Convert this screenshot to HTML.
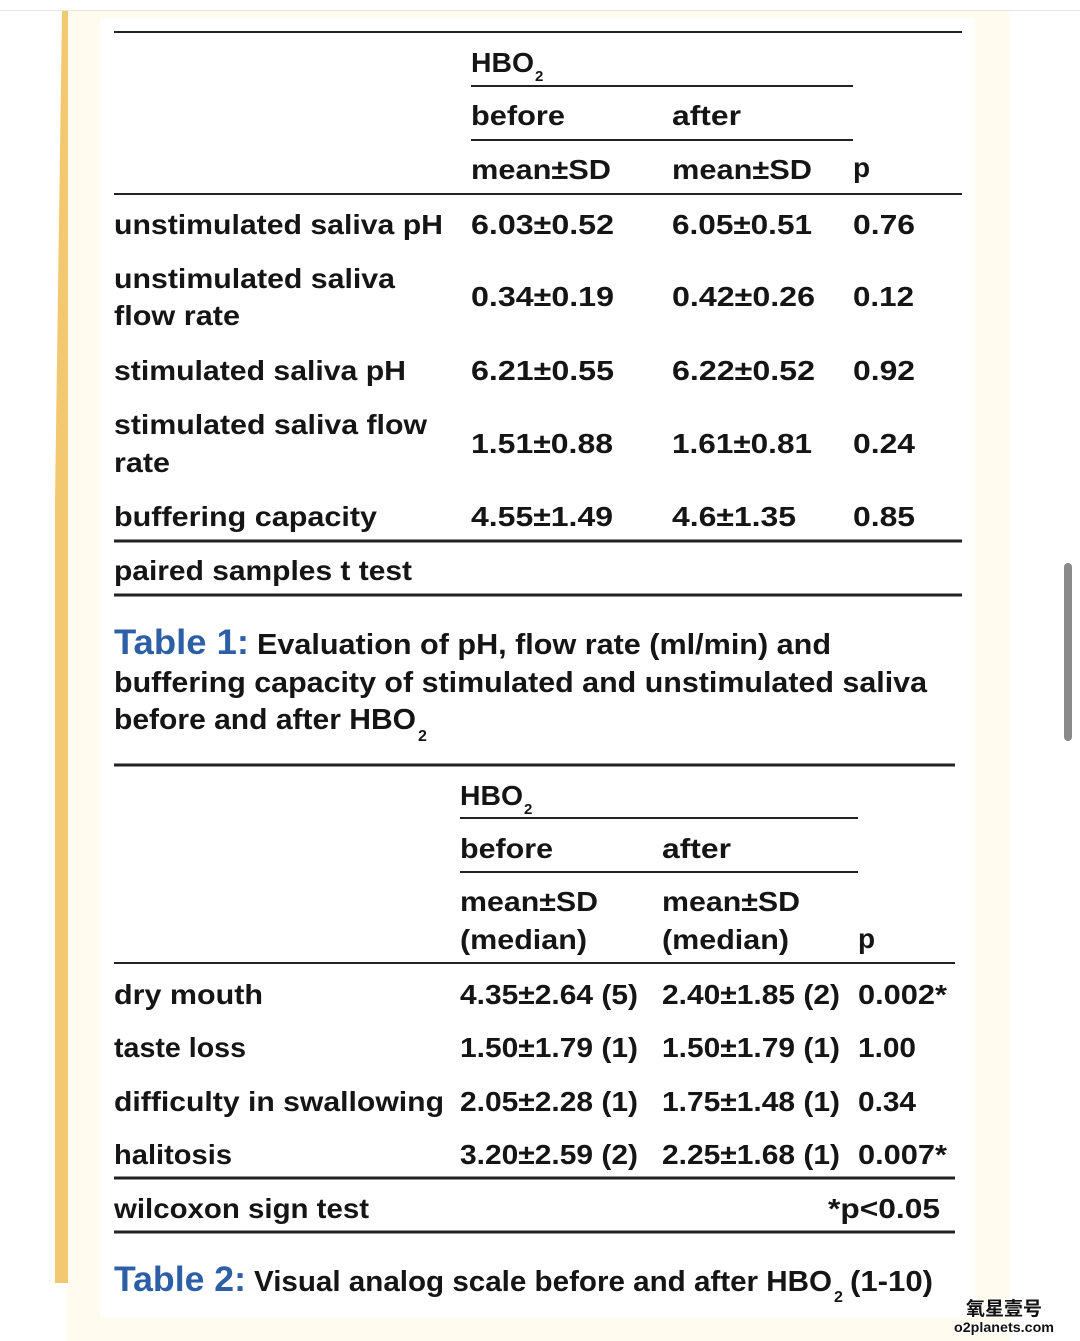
<!DOCTYPE html>
<html><head><meta charset="utf-8"><style>
html,body{margin:0;padding:0;width:1080px;height:1341px;overflow:hidden;background:#fff}
svg{display:block}
text{font-family:"Liberation Sans","Noto Sans CJK SC",sans-serif;font-weight:bold;fill:#151515}
</style></head><body>
<svg width="1080" height="1341">
<rect x="0" y="0" width="1080" height="1341" fill="#fff"/>
<line x1="0" y1="10.5" x2="1080" y2="10.5" stroke="#e6e6e6"/>
<rect x="67" y="11" width="943" height="1330" fill="#fffbef"/>
<polygon points="62,11 68,11 68,1283 55,1283 55,500" fill="#f2c971"/>
<rect x="100" y="18" width="875" height="1300" fill="#fff"/>
<rect x="1064" y="563" width="8" height="178" rx="4" fill="#8a8a8a"/>

<g stroke="#222">
<line x1="114" y1="32" x2="962" y2="32" stroke-width="2"/>
<line x1="471" y1="86" x2="853" y2="86" stroke-width="2"/>
<line x1="471" y1="140" x2="853" y2="140" stroke-width="2"/>
<line x1="114" y1="194" x2="962" y2="194" stroke-width="2"/>
<line x1="114" y1="541" x2="962" y2="541" stroke-width="3"/>
<line x1="114" y1="595" x2="962" y2="595" stroke-width="3"/>
</g>
<g font-size="28" lengthAdjust="spacingAndGlyphs">
<text x="471" y="72" textLength="63" lengthAdjust="spacingAndGlyphs">HBO</text><text x="535" y="81" font-size="15">2</text>
<text x="471" y="125" textLength="94" lengthAdjust="spacingAndGlyphs">before</text>
<text x="672" y="125" textLength="69" lengthAdjust="spacingAndGlyphs">after</text>
<text x="471" y="179" textLength="140" lengthAdjust="spacingAndGlyphs">mean±SD</text>
<text x="672" y="179" textLength="140" lengthAdjust="spacingAndGlyphs">mean±SD</text>
<text x="853" y="177">p</text>

<text x="114" y="234" textLength="329" lengthAdjust="spacingAndGlyphs">unstimulated saliva pH</text>
<text x="471" y="234" textLength="143" lengthAdjust="spacingAndGlyphs">6.03±0.52</text>
<text x="672" y="234" textLength="140" lengthAdjust="spacingAndGlyphs">6.05±0.51</text>
<text x="853" y="234" textLength="62" lengthAdjust="spacingAndGlyphs">0.76</text>

<text x="114" y="288" textLength="281" lengthAdjust="spacingAndGlyphs">unstimulated saliva</text>
<text x="114" y="325" textLength="126" lengthAdjust="spacingAndGlyphs">flow rate</text>
<text x="471" y="306" textLength="143" lengthAdjust="spacingAndGlyphs">0.34±0.19</text>
<text x="672" y="306" textLength="143" lengthAdjust="spacingAndGlyphs">0.42±0.26</text>
<text x="853" y="306" textLength="61" lengthAdjust="spacingAndGlyphs">0.12</text>

<text x="114" y="380" textLength="292" lengthAdjust="spacingAndGlyphs">stimulated saliva pH</text>
<text x="471" y="380" textLength="143" lengthAdjust="spacingAndGlyphs">6.21±0.55</text>
<text x="672" y="380" textLength="143" lengthAdjust="spacingAndGlyphs">6.22±0.52</text>
<text x="853" y="380" textLength="62" lengthAdjust="spacingAndGlyphs">0.92</text>

<text x="114" y="434" textLength="313" lengthAdjust="spacingAndGlyphs">stimulated saliva flow</text>
<text x="114" y="472" textLength="56" lengthAdjust="spacingAndGlyphs">rate</text>
<text x="471" y="453" textLength="142" lengthAdjust="spacingAndGlyphs">1.51±0.88</text>
<text x="672" y="453" textLength="140" lengthAdjust="spacingAndGlyphs">1.61±0.81</text>
<text x="853" y="453" textLength="62" lengthAdjust="spacingAndGlyphs">0.24</text>

<text x="114" y="526" textLength="263" lengthAdjust="spacingAndGlyphs">buffering capacity</text>
<text x="471" y="526" textLength="142" lengthAdjust="spacingAndGlyphs">4.55±1.49</text>
<text x="672" y="526" textLength="124" lengthAdjust="spacingAndGlyphs">4.6±1.35</text>
<text x="853" y="526" textLength="62" lengthAdjust="spacingAndGlyphs">0.85</text>

<text x="114" y="580" textLength="298" lengthAdjust="spacingAndGlyphs">paired samples t test</text>
</g>
<g>
<text x="114" y="654" font-size="35" textLength="135" lengthAdjust="spacingAndGlyphs" style="fill:#2c5fa6">Table 1:</text>
<text x="257" y="654" font-size="29" textLength="574" lengthAdjust="spacingAndGlyphs">Evaluation of pH, flow rate (ml/min) and</text>
<text x="114" y="692" font-size="29" textLength="813" lengthAdjust="spacingAndGlyphs">buffering capacity of stimulated and unstimulated saliva</text>
<text x="114" y="729" font-size="29" textLength="302" lengthAdjust="spacingAndGlyphs">before and after HBO</text><text x="418" y="741" font-size="16">2</text>
</g>

<g stroke="#222">
<line x1="114" y1="765" x2="955" y2="765" stroke-width="3"/>
<line x1="460" y1="818" x2="858" y2="818" stroke-width="2"/>
<line x1="460" y1="872" x2="858" y2="872" stroke-width="2"/>
<line x1="114" y1="963" x2="955" y2="963" stroke-width="2"/>
<line x1="114" y1="1178" x2="955" y2="1178" stroke-width="3"/>
<line x1="114" y1="1232" x2="955" y2="1232" stroke-width="3"/>
</g>
<g font-size="28">
<text x="460" y="805" textLength="63" lengthAdjust="spacingAndGlyphs">HBO</text><text x="524" y="814" font-size="15">2</text>
<text x="460" y="858" textLength="93" lengthAdjust="spacingAndGlyphs">before</text>
<text x="662" y="858" textLength="69" lengthAdjust="spacingAndGlyphs">after</text>
<text x="460" y="911" textLength="138" lengthAdjust="spacingAndGlyphs">mean±SD</text>
<text x="460" y="949" textLength="127" lengthAdjust="spacingAndGlyphs">(median)</text>
<text x="662" y="911" textLength="138" lengthAdjust="spacingAndGlyphs">mean±SD</text>
<text x="662" y="949" textLength="127" lengthAdjust="spacingAndGlyphs">(median)</text>
<text x="858" y="948">p</text>

<text x="114" y="1004" textLength="149" lengthAdjust="spacingAndGlyphs">dry mouth</text>
<text x="460" y="1004" textLength="178" lengthAdjust="spacingAndGlyphs">4.35±2.64 (5)</text>
<text x="662" y="1004" textLength="178" lengthAdjust="spacingAndGlyphs">2.40±1.85 (2)</text>
<text x="858" y="1004" textLength="89" lengthAdjust="spacingAndGlyphs">0.002*</text>

<text x="114" y="1057" textLength="132" lengthAdjust="spacingAndGlyphs">taste loss</text>
<text x="460" y="1057" textLength="178" lengthAdjust="spacingAndGlyphs">1.50±1.79 (1)</text>
<text x="662" y="1057" textLength="178" lengthAdjust="spacingAndGlyphs">1.50±1.79 (1)</text>
<text x="858" y="1057" textLength="58" lengthAdjust="spacingAndGlyphs">1.00</text>

<text x="114" y="1111" textLength="330" lengthAdjust="spacingAndGlyphs">difficulty in swallowing</text>
<text x="460" y="1111" textLength="178" lengthAdjust="spacingAndGlyphs">2.05±2.28 (1)</text>
<text x="662" y="1111" textLength="178" lengthAdjust="spacingAndGlyphs">1.75±1.48 (1)</text>
<text x="858" y="1111" textLength="58" lengthAdjust="spacingAndGlyphs">0.34</text>

<text x="114" y="1164" textLength="118" lengthAdjust="spacingAndGlyphs">halitosis</text>
<text x="460" y="1164" textLength="178" lengthAdjust="spacingAndGlyphs">3.20±2.59 (2)</text>
<text x="662" y="1164" textLength="178" lengthAdjust="spacingAndGlyphs">2.25±1.68 (1)</text>
<text x="858" y="1164" textLength="89" lengthAdjust="spacingAndGlyphs">0.007*</text>

<text x="114" y="1218" textLength="255" lengthAdjust="spacingAndGlyphs">wilcoxon sign test</text>
<text x="828" y="1218" textLength="112" lengthAdjust="spacingAndGlyphs">*p&lt;0.05</text>
</g>
<g>
<text x="114" y="1291" font-size="35" textLength="132" lengthAdjust="spacingAndGlyphs" style="fill:#2c5fa6">Table 2:</text>
<text x="254" y="1291" font-size="29" textLength="578" lengthAdjust="spacingAndGlyphs">Visual analog scale before and after HBO</text>
<text x="834" y="1302" font-size="16">2</text>
<text x="850" y="1291" font-size="29" textLength="83" lengthAdjust="spacingAndGlyphs">(1-10)</text>
</g>
<g>
<text x="1004" y="1315" font-size="19" text-anchor="middle" style="fill:#111;stroke:#fff;stroke-width:2;paint-order:stroke">氧星壹号</text>
<text x="1004" y="1332" font-size="14" text-anchor="middle" textLength="100" lengthAdjust="spacingAndGlyphs" style="fill:#111;stroke:#fff;stroke-width:2;paint-order:stroke">o2planets.com</text>
</g>
</svg>
</body></html>
